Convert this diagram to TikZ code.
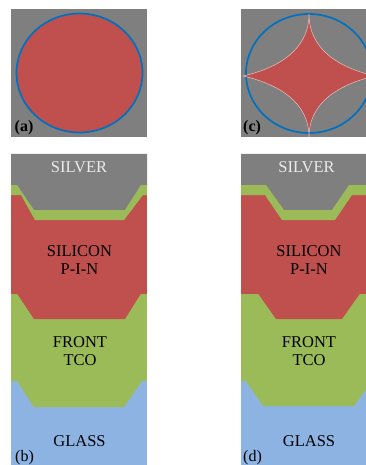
\documentclass[tikz,border=0pt]{standalone}
\usepackage{fontspec}
\setmainfont{Liberation Serif}
\definecolor{cgray}{HTML}{7F7F7F}
\definecolor{cred}{HTML}{C0504D}
\definecolor{cgreen}{HTML}{9BBB59}
\definecolor{cblue}{HTML}{8DB3E2}
\definecolor{cring}{HTML}{0070C0}
\tikzset{
  layertext/.style={font=\fontsize{16.5}{18.5}\selectfont, align=center, text=black, inner sep=0pt},
  silvertext/.style={layertext, text=white!92!black},
  paneltag/.style={font=\fontsize{16}{18}\selectfont, text=black, inner sep=0pt},
  boldtag/.style={paneltag, font=\fontsize{16}{18}\selectfont\bfseries},
  ring/.style={draw=cring, line width=1.7pt},
  star/.style={fill=cred, draw=white!65!cred, line width=0.5pt}
}
\begin{document}
\begin{tikzpicture}[x=1pt,y=-1pt]
\useasboundingbox (0,0) rectangle (366,465);
\clip (0,0) rectangle (366,465);
% panel (a)
\fill[cgray] (11,9) rectangle (147,137);
\path[ring, fill=cred] (79.5,73) ellipse [x radius=63, y radius=59.5];
\node[boldtag, anchor=base west] (taga) at (14.5,132) {(a)};
% panel (c)
\fill[cgray] (241,9) rectangle (366,137);
\draw[ring] (309,73.5) ellipse [x radius=63, y radius=59.5];
\path[star] (309,14)
  .. controls (309,50) and (340,68) .. (375,76)
  .. controls (340,84) and (309,102) .. (309,137)
  .. controls (309,102) and (278,84) .. (243,76)
  .. controls (278,68) and (309,50) .. (309,14) -- cycle;
\node[boldtag, anchor=base west] (tagc) at (243,132) {(c)};
% panel (b)
\fill[cred] (11,190) rectangle (147,294);
\fill[cgray] (11,154) -- (147,154) -- (147,186) -- (141,186) -- (125,211) -- (34,211) -- (17,186) -- (11,186) -- cycle;
\fill[cgreen] (11,185) -- (17,185) -- (34,210) -- (125,210) -- (141,185) -- (147,185)
  -- (147,195) -- (143,195) -- (124,220) -- (35,220) -- (21,195) -- (11,195) -- cycle;
\fill[cgreen] (11,293.5) rectangle (147,381);
\fill[cred] (17,293.5) -- (34,319) -- (125,319) -- (141,293.5) -- cycle;
\fill[cblue] (11,381) rectangle (147,465);
\fill[cgreen] (17,381) -- (34,407) -- (124,407) -- (142,381) -- cycle;
\node[silvertext] (silverb) at (79,167.5) {SILVER};
\node[layertext] (siliconb) at (79.5,260) {SILICON\\P-I-N};
\node[layertext] (tcob) at (80,351) {FRONT\\TCO};
\node[layertext] (glassb) at (79.5,441) {GLASS};
\node[paneltag, anchor=base west] (tagb) at (15,461.3) {(b)};
% panel (d)
\fill[cred] (241,190) rectangle (366,294);
\fill[cgray] (241,154) -- (366,154) -- (366,186) -- (349,186) -- (332,211) -- (284,211) -- (266,186) -- (241,186) -- cycle;
\fill[cgreen] (241,185) -- (266,185) -- (284,210) -- (332,210) -- (349,185) -- (366,185)
  -- (366,195) -- (352,195) -- (335,220) -- (282,220) -- (265,195) -- (241,195) -- cycle;
\fill[cgreen] (241,293.5) rectangle (366,381);
\fill[cred] (258,293.5) -- (276,319) -- (342,319) -- (360,293.5) -- cycle;
\fill[cblue] (241,381) rectangle (366,465);
\fill[cgreen] (246,381) -- (263,406) -- (354,406) -- (372,381) -- cycle;
\node[silvertext] (silverd) at (306.5,167.5) {SILVER};
\node[layertext] (silicond) at (309,260) {SILICON\\P-I-N};
\node[layertext] (tcod) at (309,351) {FRONT\\TCO};
\node[layertext] (glassd) at (309,441) {GLASS};
\node[paneltag, anchor=base west] (tagd) at (243,461.3) {(d)};
\end{tikzpicture}
\end{document}
